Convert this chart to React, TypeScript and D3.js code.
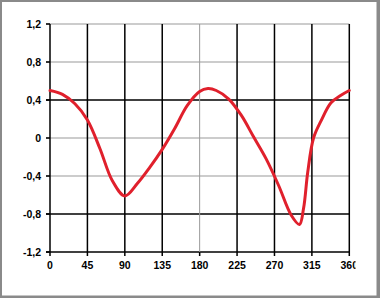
import React from "react";
import * as d3 from "d3";

const angles = [0, 15, 30, 45, 60, 75, 90, 105, 120, 135, 150, 165, 180, 190, 200, 215, 230, 245, 260, 275, 290, 300, 305, 310, 317, 326, 338, 350, 360];
const values = [0.5, 0.46, 0.36, 0.19, -0.11, -0.45, -0.61, -0.48, -0.31, -0.12, 0.1, 0.34, 0.49, 0.52, 0.5, 0.41, 0.24, 0.01, -0.22, -0.5, -0.81, -0.91, -0.74, -0.36, 0.0, 0.18, 0.37, 0.45, 0.5];

const xTicks = [0, 45, 90, 135, 180, 225, 270, 315, 360];
const xTickDark = [true, true, true, true, false, true, true, true, true];
const yTicks = [1.2, 0.8, 0.4, 0, -0.4, -0.8, -1.2];
const yTickDark = [false, false, true, false, false, true, true];

export default function App() {
  const W = 380, H = 298;
  const x = d3.scaleLinear().domain([0, 360]).range([50, 349.3]);
  const y = d3.scaleLinear().domain([-1.2, 1.2]).range([252, 24]);
  const pts: [number, number][] = angles.map((a, i) => [a, values[i]]);
  const line = d3.line<[number, number]>().x(d => x(d[0])).y(d => y(d[1])).curve(d3.curveCatmullRom.alpha(0.5));
  const fmt = (v: number) => (v === 0 ? "0" : v.toFixed(1).replace(".", ","));
  const font = "'Liberation Sans', Arial, sans-serif";
  return (
    <svg width={W} height={H} style={{ position: "absolute", left: 0, top: 0 }}>
      <defs>
        <clipPath id="lblclip"><rect x={0} y={0} width={355.5} height={H} /></clipPath>
      </defs>
      <rect x={0} y={0} width={W} height={H} fill="#8a8a8a" />
      <rect x={2} y={2} width={374.5} height={293.5} fill="#ffffff" />
      {yTicks.map((t, i) => (
        <line key={"h" + i} x1={46} x2={x(360)} y1={y(t)} y2={y(t)}
          stroke={yTickDark[i] ? "#000" : "#999"} strokeWidth={yTickDark[i] ? 1.5 : 1} />
      ))}
      {xTicks.map((t, i) => (
        <line key={"v" + i} x1={x(t)} x2={x(t)} y1={y(1.2)} y2={y(-1.2) + 4}
          stroke={xTickDark[i] ? "#000" : "#999"} strokeWidth={xTickDark[i] ? 1.5 : 1} />
      ))}
      <line x1={x(180)} x2={x(180)} y1={y(-1.2)} y2={y(-1.2) + 4} stroke="#000" strokeWidth={1.5} />
      {yTicks.map((t, i) => (
        <line key={"yt" + i} x1={46} x2={50} y1={y(t)} y2={y(t)} stroke="#000" strokeWidth={1.5} />
      ))}
      <path d={line(pts) || ""} fill="none" stroke="#e0202c" strokeWidth={3} strokeLinejoin="round" strokeLinecap="round" />
      {yTicks.map((t, i) => (
        <text key={"yl" + i} x={41} y={y(t)} dy="0.35em" textAnchor="end" fontFamily={font} fontWeight="bold" fontSize={10.5} fill="#000">{fmt(t)}</text>
      ))}
      <g clipPath="url(#lblclip)">
        {xTicks.map((t, i) => (
          <text key={"xl" + i} x={x(t)} y={265} dy="0.35em" textAnchor="middle" fontFamily={font} fontWeight="bold" fontSize={10.5} fill="#000">{t}</text>
        ))}
      </g>
    </svg>
  );
}
